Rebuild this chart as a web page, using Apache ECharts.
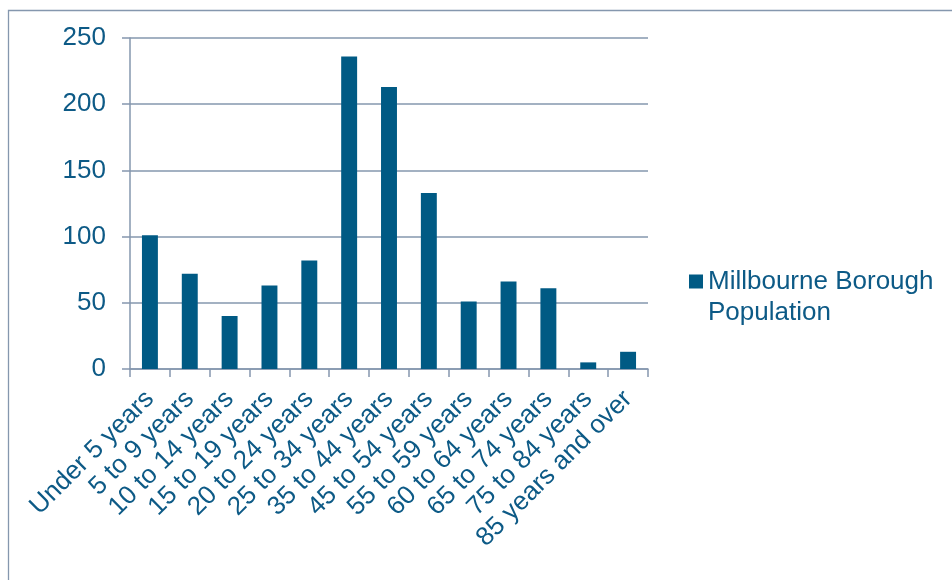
<!DOCTYPE html>
<html>
<head>
<meta charset="utf-8">
<script src="https://cdn.jsdelivr.net/npm/echarts@6/dist/echarts.min.js"></script>
<style>
html,body{margin:0;padding:0;background:#fff;}
#chart{width:952px;height:580px;}
</style>
</head>
<body>
<div id="chart"></div>
<script>
const categories = ["Under 5 years","5 to 9 years","10 to 14 years","15 to 19 years","20 to 24 years","25 to 34 years","35 to 44 years","45 to 54 years","55 to 59 years","60 to 64 years","65 to 74 years","75 to 84 years","85 years and over"];
const population = [101,72,40,63,82,236,213,133,51,66,61,5,13];
const yTicks = [0,50,100,150,200,250];
const seriesName = "Millbourne Borough Population";

const textColor = "#0d5a86";
const barColor = "#005a84";
const lineColor = "#8597ae";
const font = "Liberation Sans, Arial, sans-serif";

const chart = echarts.init(document.getElementById('chart'), null, {renderer:'canvas'});
chart.setOption({
  animation:false,
  backgroundColor:'#fff',
  graphic:[{
    type:'rect', left:6, top:8, z:-1,
    shape:{width:980, height:600},
    style:{fill:'none', stroke:lineColor, lineWidth:1.3}
  }],
  grid:{left:130, right:304, top:38, bottom:211, containLabel:false},
  legend:{
    data:[seriesName],
    left:684, top:230,
    itemWidth:14, itemHeight:14, itemGap:8,
    icon:'rect',
    formatter:function(){return " \nMillbourne Borough\nPopulation";},
    textStyle:{color:textColor, fontSize:26, fontFamily:font, lineHeight:31}
  },
  xAxis:{
    type:'category',
    data:categories,
    axisLine:{show:true, lineStyle:{color:lineColor, width:1.5}},
    axisTick:{show:true, alignWithLabel:false, length:8, lineStyle:{color:lineColor, width:1.5}},
    axisLabel:{rotate:45, interval:0, margin:26, color:textColor, fontSize:26, fontFamily:font}
  },
  yAxis:{
    type:'value', min:0, max:250, interval:50,
    axisLine:{show:true, lineStyle:{color:lineColor, width:1.5}},
    axisTick:{show:true, length:8, lineStyle:{color:lineColor, width:1.5}},
    splitLine:{show:true, lineStyle:{color:lineColor, width:1.5}},
    axisLabel:{margin:24, color:textColor, fontSize:26, fontFamily:font,
      formatter:function(v){return yTicks.indexOf(v)>=0 ? String(v) : '';}}
  },
  series:[{
    name:seriesName,
    type:'bar',
    data:population,
    barWidth:'40%',
    itemStyle:{color:barColor}
  }]
});
</script>
</body>
</html>
